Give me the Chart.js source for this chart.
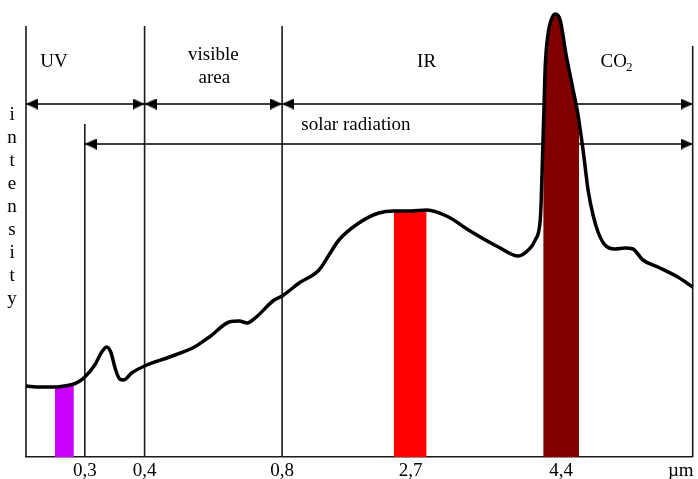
<!DOCTYPE html>
<html>
<head>
<meta charset="utf-8">
<script src="https://cdn.jsdelivr.net/npm/chart.js@4"></script>
<style>
  body { margin: 0; background: #fff; }
  #wrap { width: 698px; height: 479px; }
</style>
</head>
<body>
<div id="wrap"><canvas id="myChart" width="698" height="479"></canvas></div>
<script>
// schematic wavelength axis (position units along the axis)
var tickPos = [59, 119, 257, 386, 537, 657];
var tickLabels = ['0,3', '0,4', '0,8', '2,7', '4,4', 'µm'];

// intensity curve
var curveX = [0, 14, 29, 44, 48, 54, 59, 69, 76, 81, 85, 90, 94, 98, 106, 119, 144, 169, 184, 204,
  214, 222, 230, 249, 257, 274, 294, 304, 314, 334, 354, 369, 386, 402, 424, 444, 474, 494,
  504, 511, 516, 517, 518, 519, 520, 521, 524, 527, 531, 536, 542, 548, 554, 555, 559, 564, 569, 574, 581,
  591, 601, 609, 619, 634, 654, 669];
var curveY = [71, 70, 70, 72, 73, 76, 80, 92, 105, 110, 105, 87, 78, 77, 84, 91, 100, 110, 120, 135,
  136, 134, 139, 157, 161, 174, 187, 202, 217, 234, 244, 246, 246, 247, 240, 227, 210, 201,
  207, 217, 237, 257, 290, 324, 357, 390, 424, 437, 443, 437, 402, 372, 342, 335, 307, 267, 242, 225, 212,
  208, 209, 208, 197, 190, 180, 170];

// absorption bands (filled under the curve)
var bandFrom = [29, 369, 519];
var bandTo = [48, 402, 555];
var bandColors = ['#cc00ff', '#ff0000', '#800000'];

// vertical divider lines
var dividerX = [0, 59, 119, 257, 669];
var dividerTop = [431, 333, 431, 431, 411];

// double arrows
var arrowFrom = [0, 119, 257, 59];
var arrowTo = [119, 257, 669, 669];
var arrowLevel = [353, 353, 353, 313];

var regionLabels = [
  { text: 'UV', x: 28, y: 390 },
  { text: 'visible', x: 188, y: 397 },
  { text: 'area', x: 189, y: 374 },
  { text: 'IR', x: 402, y: 390 },
  { text: 'solar radiation', x: 331, y: 327 }
];
var axisTitle = 'intensity';

// arrow head image, tip at the centre, pointing right
function makeArrowHead() {
  const c = document.createElement('canvas');
  c.width = 24;
  c.height = 11;
  const g = c.getContext('2d');
  g.fillStyle = '#000';
  g.beginPath();
  g.moveTo(0, 0);
  g.lineTo(12, 5.5);
  g.lineTo(0, 11);
  g.closePath();
  g.fill();
  return c;
}
const arrowHead = makeArrowHead();

const curvePoints = curveX.map((x, i) => ({ x: x, y: curveY[i] }));

const datasets = [];

datasets.push({
  data: curvePoints,
  borderColor: '#000',
  borderWidth: 3.5,
  pointRadius: 0,
  cubicInterpolationMode: 'monotone',
  fill: false,
  clip: false
});

bandFrom.forEach((from, i) => {
  datasets.push({
    data: curvePoints.filter((p) => p.x >= from && p.x <= bandTo[i]),
    borderWidth: 0,
    borderColor: bandColors[i],
    backgroundColor: bandColors[i],
    pointRadius: 0,
    cubicInterpolationMode: 'monotone',
    fill: 'origin'
  });
});

arrowFrom.forEach((from, i) => {
  datasets.push({
    data: [{ x: from, y: arrowLevel[i] }, { x: arrowTo[i], y: arrowLevel[i] }],
    borderColor: '#000',
    borderWidth: 1.3,
    pointStyle: arrowHead,
    pointRadius: 1,
    pointRotation: [180, 0],
    fill: false,
    clip: false
  });
});

dividerX.forEach((x, i) => {
  datasets.push({
    data: [{ x: x, y: 0 }, { x: x, y: dividerTop[i] }],
    borderColor: '#1a1a1a',
    borderWidth: 1.6,
    pointRadius: 0,
    fill: false,
    clip: false
  });
});

const textPlugin = {
  id: 'schemeText',
  afterDatasetsDraw(chart) {
    const { ctx } = chart;
    const xs = chart.scales.x;
    const ys = chart.scales.y;
    ctx.save();
    ctx.fillStyle = '#000';
    ctx.font = '19px "Liberation Serif", "Times New Roman", serif';
    ctx.textAlign = 'center';
    ctx.textBaseline = 'alphabetic';
    regionLabels.forEach((l) => {
      ctx.fillText(l.text, xs.getPixelForValue(l.x), ys.getPixelForValue(l.y));
    });

    // CO2 with subscript
    const coW = ctx.measureText('CO').width;
    ctx.font = '13px "Liberation Serif", "Times New Roman", serif';
    const subW = ctx.measureText('2').width;
    const cx = xs.getPixelForValue(593);
    const cy = ys.getPixelForValue(390);
    ctx.textAlign = 'left';
    ctx.font = '19px "Liberation Serif", "Times New Roman", serif';
    ctx.fillText('CO', cx - (coW + subW) / 2, cy);
    ctx.font = '13px "Liberation Serif", "Times New Roman", serif';
    ctx.fillText('2', cx - (coW + subW) / 2 + coW - 1, cy + 4);

    // vertical axis title, one letter per line
    ctx.font = '19px "Liberation Serif", "Times New Roman", serif';
    ctx.textAlign = 'center';
    axisTitle.split('').forEach((ch, i) => {
      ctx.fillText(ch, xs.getPixelForValue(-14), ys.getPixelForValue(337 - i * 23));
    });
    ctx.restore();
  }
};

const ctx = document.getElementById('myChart').getContext('2d');
const myChart = new Chart(ctx, {
  type: 'line',
  data: { datasets: datasets },
  options: {
    responsive: false,
    animation: false,
    events: [],
    layout: { padding: { left: 26, right: 3, top: 12, bottom: 0 } },
    plugins: {
      legend: { display: false },
      tooltip: { enabled: false }
    },
    scales: {
      x: {
        type: 'linear',
        min: 0,
        max: 669,
        grid: { display: false, drawTicks: false },
        border: { display: true, color: '#1a1a1a', width: 1.6 },
        afterBuildTicks: (scale) => {
          scale.ticks = tickPos.map((v) => ({ value: v }));
        },
        afterFit: (scale) => {
          scale.height = 22;
        },
        ticks: {
          autoSkip: false,
          maxRotation: 0,
          padding: 3,
          color: '#000',
          font: { family: '"Liberation Serif", "Times New Roman", serif', size: 19 },
          callback: (value, index) => tickLabels[index]
        }
      },
      y: {
        type: 'linear',
        min: 0,
        max: 445,
        display: false
      }
    }
  },
  plugins: [textPlugin]
});
</script>
</body>
</html>
